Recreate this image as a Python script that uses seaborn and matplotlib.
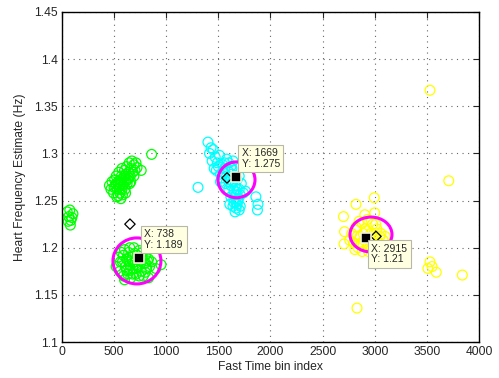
import matplotlib
matplotlib.use('Agg')
import matplotlib.pyplot as plt
from matplotlib.patches import Ellipse
import seaborn as sns
import pandas as pd

# --- data ---
# upper green cluster
ga_x = [455, 470, 480, 495, 505, 515, 520, 530, 540, 545, 555, 560, 570, 575, 585, 590, 600, 605, 615, 620,
        630, 640, 645, 655, 660, 670, 680, 690, 700, 710, 720, 500, 525, 550, 565, 580, 595, 610, 625, 640,
        660, 520, 560, 600, 650, 540, 575, 610, 690, 760, 860]
ga_y = [1.266, 1.262, 1.270, 1.258, 1.272, 1.265, 1.276, 1.262, 1.270, 1.280, 1.258, 1.268, 1.276, 1.284, 1.266, 1.274, 1.282, 1.262, 1.278, 1.286,
        1.272, 1.280, 1.290, 1.276, 1.284, 1.292, 1.280, 1.288, 1.282, 1.290, 1.285, 1.264, 1.254, 1.262, 1.252, 1.256, 1.270, 1.258, 1.268, 1.274,
        1.270, 1.268, 1.272, 1.276, 1.268, 1.255, 1.262, 1.270, 1.276, 1.282, 1.299]
# small green group near x=0
gl_x = [50, 75, 65, 95, 60, 85, 105, 80]
gl_y = [1.238, 1.240, 1.233, 1.232, 1.228, 1.229, 1.236, 1.224]
# lower green cluster
gb_x = [520, 540, 555, 570, 580, 590, 600, 610, 620, 630, 640, 650, 660, 670, 680, 690, 700, 710, 720, 730,
        740, 750, 760, 770, 780, 790, 800, 810, 820, 830, 840, 560, 590, 620, 650, 680, 710, 740, 770, 800,
        830, 600, 640, 680, 720, 760, 800, 860, 900, 950, 650, 700]
gb_y = [1.180, 1.190, 1.175, 1.195, 1.185, 1.170, 1.198, 1.180, 1.188, 1.172, 1.195, 1.182, 1.168, 1.190, 1.178, 1.200, 1.185, 1.172, 1.192, 1.180,
        1.197, 1.186, 1.175, 1.190, 1.170, 1.183, 1.192, 1.178, 1.186, 1.168, 1.180, 1.185, 1.192, 1.176, 1.200, 1.184, 1.178, 1.170, 1.195, 1.174,
        1.188, 1.166, 1.186, 1.172, 1.182, 1.190, 1.184, 1.185, 1.178, 1.182, 1.176, 1.194]
# cyan cluster
c_x = [1400, 1430, 1415, 1450, 1470, 1440, 1490, 1510, 1460, 1480, 1500, 1520, 1540, 1530, 1550, 1560, 1580, 1570, 1600, 1590,
       1620, 1610, 1640, 1630, 1660, 1650, 1680, 1670, 1700, 1690, 1720, 1710, 1740, 1600, 1620, 1650, 1670, 1690, 1710, 1640,
       1660, 1680, 1700, 1620, 1650, 1680, 1610, 1640, 1670, 1700, 1560, 1580, 1600, 1630, 1860, 1880, 1875, 1305, 1520, 1760]
c_y = [1.312, 1.306, 1.300, 1.304, 1.296, 1.292, 1.290, 1.298, 1.284, 1.282, 1.286, 1.278, 1.288, 1.274, 1.280, 1.284, 1.276, 1.268, 1.290, 1.282,
       1.286, 1.272, 1.292, 1.278, 1.266, 1.260, 1.272, 1.256, 1.262, 1.250, 1.268, 1.244, 1.258, 1.262, 1.254, 1.248, 1.242, 1.252, 1.256, 1.244,
       1.238, 1.246, 1.240, 1.266, 1.252, 1.262, 1.246, 1.270, 1.248, 1.276, 1.290, 1.294, 1.270, 1.284, 1.254, 1.246, 1.240, 1.264, 1.270, 1.260]
# yellow cluster
y_x = [2780, 2800, 2820, 2840, 2860, 2880, 2900, 2920, 2940, 2960, 2980, 3000, 3020, 3040, 3060, 3080, 2810, 2850, 2890, 2930,
       2970, 3010, 3050, 2830, 2870, 2910, 2950, 2990, 3030, 2760, 3100, 2995, 2820, 2700, 2710, 2705, 3530, 3710, 3530, 3550,
       3510, 3590, 3840, 2830, 2880, 2940, 3000, 2905]
y_y = [1.215, 1.205, 1.222, 1.200, 1.212, 1.226, 1.208, 1.218, 1.203, 1.215, 1.225, 1.210, 1.220, 1.205, 1.215, 1.208, 1.198, 1.228, 1.215, 1.230,
       1.200, 1.225, 1.212, 1.212, 1.205, 1.220, 1.210, 1.205, 1.200, 1.208, 1.212, 1.253, 1.246, 1.233, 1.217, 1.204, 1.367, 1.271, 1.185, 1.180,
       1.178, 1.174, 1.171, 1.136, 1.196, 1.196, 1.237, 1.235]

# cluster means (diamonds) and the data tips (squares)
mean_x = [652, 1583, 3012]
mean_y = [1.225, 1.274, 1.212]
tip_x = [738, 1669, 2915]
tip_y = [1.189, 1.275, 1.21]
tip_labels = ['X: 738\nY: 1.189', 'X: 1669\nY: 1.275', 'X: 2915\nY: 1.21']
# magenta rings
ring_x = [719, 1674, 2964]
ring_y = [1.186, 1.272, 1.214]
ring_w = [460, 355, 403]
ring_h = [0.0488, 0.038, 0.037]

assert len(ga_x) == len(ga_y) and len(gb_x) == len(gb_y)
assert len(c_x) == len(c_y) and len(y_x) == len(y_y) and len(gl_x) == len(gl_y)

df = pd.concat([
    pd.DataFrame({'x': ga_x + gl_x + gb_x, 'y': ga_y + gl_y + gb_y, 'grp': 'green'}),
    pd.DataFrame({'x': c_x, 'y': c_y, 'grp': 'cyan'}),
    pd.DataFrame({'x': y_x, 'y': y_y, 'grp': 'yellow'}),
])
palette = {'green': '#00ff00', 'cyan': '#00ffff', 'yellow': '#ffff00'}

sns.set_style('white')
plt.rcParams['font.family'] = ['Liberation Sans', 'DejaVu Sans']

fig = plt.figure(figsize=(4.99, 3.78), dpi=100)
ax = fig.add_axes([0.1242, 0.0952, 0.8357, 0.8731])

# hollow circles: draw each colour group with its own edge colour
for grp, col in palette.items():
    sub = df[df.grp == grp]
    sns.scatterplot(x=sub.x, y=sub.y, ax=ax, marker='o', s=50,
                    facecolor='none', edgecolor=col, linewidth=0.9, legend=False)

for cx, cy, w, h in zip(ring_x, ring_y, ring_w, ring_h):
    ax.add_patch(Ellipse((cx, cy), w, h, fill=False, edgecolor='#ff00ff', linewidth=2.2, zorder=4))

ax.scatter(mean_x, mean_y, marker='D', s=28, facecolor='none', edgecolor='black', linewidth=0.9, zorder=5)
ax.scatter(tip_x, tip_y, marker='s', s=55, color='black', edgecolor='#f4f2d8', linewidth=1.2, zorder=6)

offsets = [(4, 6), (4, 6), (4, -4)]
valign = ['bottom', 'bottom', 'top']
for tx, ty, lab, off, va in zip(tip_x, tip_y, tip_labels, offsets, valign):
    ax.annotate(lab, xy=(tx, ty), xytext=off, textcoords='offset points',
                ha='left', va=va, fontsize=7.5, linespacing=1.05, zorder=7,
                bbox=dict(boxstyle='square,pad=0.35', facecolor='#ffffe1', edgecolor='#b8b8a8', linewidth=0.8))

ax.set_xlim(0, 4000)
ax.set_ylim(1.1, 1.45)
ax.set_xticks(range(0, 4001, 500))
ax.set_yticks([1.1, 1.15, 1.2, 1.25, 1.3, 1.35, 1.4, 1.45])
ax.set_yticklabels(['1.1', '1.15', '1.2', '1.25', '1.3', '1.35', '1.4', '1.45'])
ax.grid(True, linestyle=(0, (1, 4)), color='0.4', linewidth=0.8)
ax.tick_params(direction='in', length=4, top=True, right=True, labelsize=8.7, width=0.8, pad=3)
for sp in ax.spines.values():
    sp.set_color('black')
    sp.set_linewidth(1.0)
ax.set_xlabel('Fast Time bin index', fontsize=8.7, labelpad=2)
ax.set_ylabel('Heart Frequency Estimate (Hz)', fontsize=8.7, labelpad=6)

fig.savefig('out.png', dpi=100)
